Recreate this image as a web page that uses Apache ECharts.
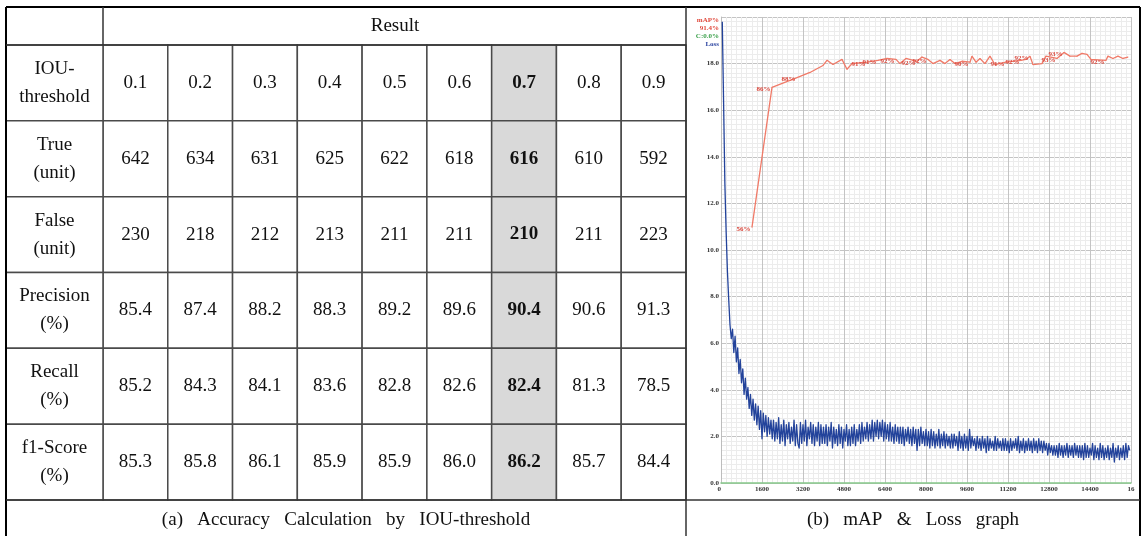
<!DOCTYPE html>
<html><head><meta charset="utf-8">
<script src="https://cdn.jsdelivr.net/npm/echarts@6/dist/echarts.min.js"></script>
<style>html,body{margin:0;padding:0;background:#fff}#c{width:1142px;height:536px}</style>
</head><body><div id="c"></div>
<script>
// ---------- table data ----------
const thresholds = ['0.1','0.2','0.3','0.4','0.5','0.6','0.7','0.8','0.9'];
const BEST_THRESHOLD = '0.7';
const rowNames = ['IOU-\nthreshold','True\n(unit)','False\n(unit)','Precision\n(%)','Recall\n(%)','f1-Score\n(%)'];
const trueCounts = [642,634,631,625,622,618,616,610,592];
const falseCounts = [230,218,212,213,211,211,210,211,223];
const precision = [85.4,87.4,88.2,88.3,89.2,89.6,90.4,90.6,91.3];
const recall = [85.2,84.3,84.1,83.6,82.8,82.6,82.4,81.3,78.5];
const f1Score = [85.3,85.8,86.1,85.9,85.9,86.0,86.2,85.7,84.4];
const headerText = 'Result';
const captionA = '(a)   Accuracy   Calculation   by   IOU-threshold';
const captionB = '(b)   mAP   &   Loss   graph';

// ---------- graph data ----------
const xTicks = [0,1600,3200,4800,6400,8000,9600,11200,12800,14400,16000];
const LOSS_START = 50, LOSS_STEP = 50;
const lossValues = [
19.8,16.4,12.9,10.8,9.1,7.9,6.8,6.2,6.6,5.6,6.3,5.2,5.8,4.7,5.3,4.3,4.9,3.8,4.5,3.6,
4.1,3.2,3.8,2.9,3.6,2.7,3.4,2.5,3.3,2.3,3.1,1.9,3.0,2.2,2.9,2.0,2.8,2.1,2.7,1.9,
2.7,1.8,2.6,1.9,2.8,1.7,2.5,1.8,2.7,1.6,2.5,1.9,2.6,1.7,2.4,1.8,2.7,1.6,2.5,1.7,
1.5,2.6,1.7,2.5,1.8,2.7,1.6,2.4,1.9,2.6,1.7,2.5,1.6,2.4,1.8,2.6,1.6,2.5,1.7,2.4,
1.7,2.5,1.6,2.4,1.8,2.6,1.5,2.4,1.7,2.3,1.6,2.5,1.7,2.4,1.5,2.3,1.8,2.5,1.6,2.3,
1.6,2.4,1.7,2.5,1.6,2.3,1.8,2.5,1.7,2.6,1.8,2.4,1.9,2.6,1.8,2.5,1.9,2.7,1.8,2.6,
2.0,2.7,1.9,2.6,2.0,2.7,1.8,2.6,1.9,2.5,1.8,2.6,1.8,2.4,1.7,2.5,1.8,2.4,1.7,2.4,
1.7,2.4,1.6,2.3,1.8,2.4,1.7,2.3,1.6,2.4,1.7,2.3,1.4,2.3,1.6,2.4,1.7,2.2,1.6,2.3,
1.6,2.2,1.5,2.3,1.6,2.2,1.5,2.1,1.6,2.3,1.5,2.1,1.6,2.2,1.5,2.1,1.6,2.0,1.5,2.1,
1.5,2.1,1.6,2.0,1.4,2.2,1.5,2.0,1.4,2.1,1.5,2.0,1.4,2.3,1.5,2.0,1.6,1.9,1.4,2.0,
1.5,1.9,1.4,2.0,1.5,1.9,1.3,2.0,1.4,1.9,1.5,1.8,1.4,2.0,1.4,1.9,1.5,1.8,1.4,1.9,
1.4,1.9,1.4,1.8,1.3,1.9,1.4,1.8,1.5,1.9,1.4,2.0,1.3,1.8,1.4,1.9,1.3,1.8,1.4,1.9,
1.4,1.8,1.3,1.9,1.4,1.8,1.3,1.9,1.4,1.8,1.3,1.8,1.4,1.7,1.2,1.7,1.3,1.6,1.2,1.6,
1.2,1.6,1.1,1.7,1.2,1.6,1.1,1.6,1.2,1.7,1.1,1.6,1.2,1.6,1.1,1.7,1.2,1.6,1.1,1.6,
1.1,1.6,1.0,1.7,1.1,1.6,1.1,1.5,1.2,1.7,1.0,1.6,1.1,1.5,1.0,1.7,1.1,1.6,1.0,1.5,
1.1,1.6,1.0,1.5,1.1,1.7,0.9,1.5,1.1,1.6,1.0,1.5,1.1,1.6,1.0,1.7,1.1,1.6,1.4
];
const mapIter = [1210,1990,2966,3473,3980,4136,4370,4721,4916,5112,5697,6126,6477,6829,6985,7219,7648,7843,8077,8272,8545,8740,8936,9131,9404,9716,9794,9950,10106,10301,10496,10691,11121,11706,11901,12057,12174,12525,12681,13110,13384,13618,13891,14087,14282,14438,15023,15101,15296,15491,15686,15881];
const mapValue = [54.9,84.9,87.0,88.1,89.6,90.7,89.8,90.9,88.8,90.0,90.3,90.7,91.1,90.9,90.0,91.1,90.5,91.4,90.9,90.0,90.7,90.0,90.9,90.0,90.5,90.3,91.6,90.3,91.1,90.0,91.6,89.8,90.3,90.7,90.9,91.6,89.8,90.0,91.6,91.1,92.4,91.6,91.6,92.2,92.0,90.9,90.7,91.6,91.1,91.6,91.1,91.4];
const mapLabel = ['56%','86%','88%','','','','','','','','91%','91%','','92%','','','92%','','92%','','','','','','','90%','','','','','','','91%','92%','','92%','','','','93%','93%','','','','','','92%','','','','',''];
const legendLines = [['mAP%','#e0493c'],['91.4%','#e0493c'],['C:0.0%','#3aa04a'],['Loss','#2a43a0']];

// ---------- build ----------
const tableText = [
  thresholds,
  trueCounts.map(String),
  falseCounts.map(String),
  precision.map(v => v.toFixed(1)),
  recall.map(v => v.toFixed(1)),
  f1Score.map(v => v.toFixed(1))
];
const bodyCells = [];
for (let r = 0; r < rowNames.length; r++) for (let c = 0; c < thresholds.length; c++) bodyCells.push([c, r]);
const labelCells = rowNames.map((_, r) => [0, r]);

const SERIF = 'Liberation Serif';
function cellRender(getText, isBest) {
  return function (params, api) {
    const c = api.value(0), r = api.value(1);
    const p = api.coord([c, r]);
    const s = api.size([1, 1]);
    const best = isBest(c);
    return {
      type: 'group',
      children: [
        { type: 'rect', shape: { x: p[0] - s[0] / 2, y: p[1] - s[1] / 2, width: s[0], height: s[1] },
          style: { fill: best ? '#d9d9d9' : '#ffffff', stroke: '#4a4a4a', lineWidth: 1.5 } },
        { type: 'text', x: p[0], y: p[1],
          style: { text: getText(r, c), align: 'center', verticalAlign: 'middle', fontSize: 19,
                   fontFamily: SERIF, fontWeight: best ? 'bold' : 'normal', fill: '#111', lineHeight: 28 } }
      ]
    };
  };
}

const chart = echarts.init(document.getElementById('c'), null, { renderer: 'canvas' });
const axFont = { fontSize: 7, fontFamily: SERIF, fontWeight: 'bold', color: '#333' };

const graphic = [];
function gline(x1, y1, x2, y2, color, w) {
  graphic.push({ type: 'line', z: 100, shape: { x1, y1, x2, y2 }, style: { stroke: color, lineWidth: w } });
}
gline(6, 7, 1140, 7, '#000', 2);
gline(6, 7, 6, 536, '#000', 2);
gline(1140, 7, 1140, 536, '#000', 2);
gline(686, 7, 686, 536, '#333', 1.5);
gline(6, 45, 686, 45, '#333', 1.5);
gline(103, 7, 103, 45, '#333', 1.5);
gline(6, 500, 1140, 500, '#333', 1.5);
graphic.push({ type: 'text', z: 100, x: 395, y: 26, style: { text: headerText, align: 'center', verticalAlign: 'middle', fontSize: 19, fontFamily: SERIF, fill: '#111' } });
graphic.push({ type: 'text', z: 100, x: 346, y: 520, style: { text: captionA, align: 'center', verticalAlign: 'middle', fontSize: 19, fontFamily: SERIF, fill: '#111' } });
graphic.push({ type: 'text', z: 100, x: 913, y: 520, style: { text: captionB, align: 'center', verticalAlign: 'middle', fontSize: 19, fontFamily: SERIF, fill: '#111' } });
legendLines.forEach((l, i) => {
  graphic.push({ type: 'text', z: 100, x: 719, y: 20 + i * 8, style: { text: l[0], align: 'right', verticalAlign: 'middle', fontSize: 7, fontFamily: SERIF, fontWeight: 'bold', fill: l[1] } });
});

const option = {
  animation: false,
  backgroundColor: '#fff',
  grid: [
    { left: 103, top: 45, width: 583, height: 455 },
    { left: 6, top: 45, width: 97, height: 455 },
    { left: 721, top: 17, right: 11, bottom: 53 }
  ],
  xAxis: [
    { type: 'category', gridIndex: 0, data: thresholds, show: false },
    { type: 'category', gridIndex: 1, data: ['label'], show: false },
    { type: 'value', gridIndex: 2, min: xTicks[0], max: xTicks[xTicks.length - 1], interval: xTicks[1] - xTicks[0],
      axisLine: { show: true, onZero: false, lineStyle: { color: '#86c98a', width: 1.5 } },
      axisTick: { show: false },
      axisLabel: Object.assign({ margin: 3, alignMinLabel: 'right', formatter: v => v === 16000 ? '16' : String(v) }, axFont),
      splitLine: { show: true, lineStyle: { color: '#c4c4c4', width: 1 } },
      minorTick: { show: false, splitNumber: 8 },
      minorSplitLine: { show: true, lineStyle: { color: '#ececec', width: 1 } } }
  ],
  yAxis: [
    { type: 'category', gridIndex: 0, data: rowNames, inverse: true, show: false },
    { type: 'category', gridIndex: 1, data: rowNames, inverse: true, show: false },
    { type: 'value', gridIndex: 2, min: 0, max: 20, interval: 2,
      axisLine: { show: true, lineStyle: { color: '#bdbdbd', width: 1 } },
      axisTick: { show: false },
      axisLabel: Object.assign({ margin: 2, formatter: v => v === 20 ? '' : v.toFixed(1) }, axFont),
      splitLine: { show: true, lineStyle: { color: '#c4c4c4', width: 1 } },
      minorTick: { show: false, splitNumber: 10 },
      minorSplitLine: { show: true, lineStyle: { color: '#ececec', width: 1 } } },
    { type: 'value', gridIndex: 2, min: 0, max: 100, show: false, splitLine: { show: false } }
  ],
  graphic: graphic,
  series: [
    { type: 'custom', xAxisIndex: 0, yAxisIndex: 0, data: bodyCells,
      renderItem: cellRender((r, c) => tableText[r][c], c => thresholds[c] === BEST_THRESHOLD) },
    { type: 'custom', xAxisIndex: 1, yAxisIndex: 1, data: labelCells,
      renderItem: cellRender((r) => rowNames[r], () => false) },
    { type: 'line', name: 'Loss', xAxisIndex: 2, yAxisIndex: 2,
      data: lossValues.map((v, i) => [LOSS_START + i * LOSS_STEP, v]),
      symbol: 'none', sampling: null, clip: true,
      lineStyle: { color: '#23439b', width: 1.3, join: 'round' } },
    { type: 'line', name: 'mAP', xAxisIndex: 2, yAxisIndex: 3,
      data: mapIter.map((x, i) => ({ value: [x, mapValue[i]],
        label: mapLabel[i] ? { show: true, formatter: mapLabel[i] } : { show: false } })),
      symbol: 'circle', symbolSize: 1, showSymbol: true, showAllSymbol: true,
      itemStyle: { color: '#f07a68' },
      lineStyle: { color: '#f07a68', width: 1.3 },
      label: { position: 'left', distance: 1, offset: [0, 2], fontSize: 7, fontFamily: SERIF, fontWeight: 'bold', color: '#d9473c' } }
  ]
};
chart.setOption(option);
</script>
</body></html>
